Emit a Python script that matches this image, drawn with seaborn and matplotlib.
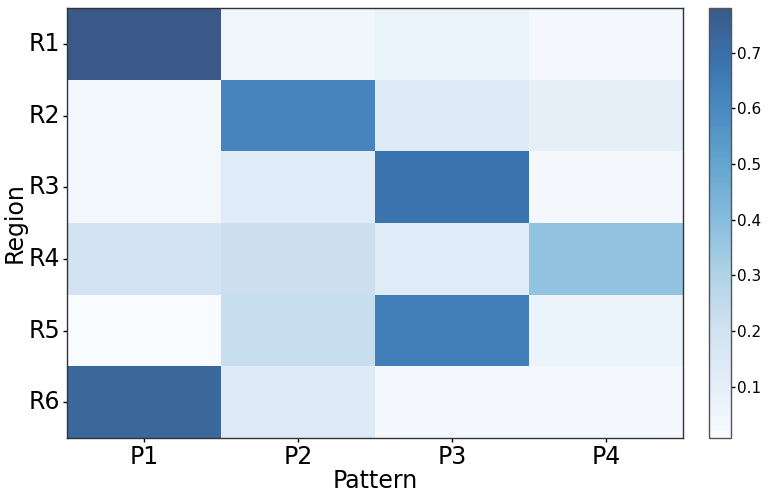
import numpy as np
import pandas as pd
import seaborn as sns
import matplotlib.pyplot as plt

# Region x pattern weights
regions = ['R1', 'R2', 'R3', 'R4', 'R5', 'R6']
patterns = ['P1', 'P2', 'P3', 'P4']
p1 = [0.78, 0.04, 0.04, 0.19, 0.008, 0.73]
p2 = [0.05, 0.62, 0.13, 0.22, 0.23, 0.14]
p3 = [0.08, 0.14, 0.68, 0.13, 0.64, 0.03]
p4 = [0.03, 0.10, 0.03, 0.37, 0.07, 0.03]

df = pd.DataFrame({'P1': p1, 'P2': p2, 'P3': p3, 'P4': p4}, index=regions)

sns.set_style("white")
plt.rcParams['font.family'] = ['DejaVu Sans']
plt.rcParams['text.color'] = 'black'
plt.rcParams['axes.labelcolor'] = 'black'
plt.rcParams['xtick.color'] = 'black'
plt.rcParams['ytick.color'] = 'black'

fig = plt.figure(figsize=(7.69, 4.99), dpi=100)
ax = fig.add_axes([0.087, 0.122, 0.801, 0.862])
cax = fig.add_axes([0.922, 0.122, 0.028, 0.862])

sns.heatmap(df, cmap='Blues', alpha=0.8, ax=ax, cbar_ax=cax)

for s in ax.spines.values():
    s.set_visible(True)
    s.set_color('#333333')
    s.set_linewidth(1.0)
ax.tick_params(axis='both', labelsize=17, length=3, width=1, pad=2, left=True, bottom=True)
ax.set_yticklabels(regions, rotation=0)
ax.set_xticklabels(patterns, rotation=0)
ax.set_xlabel('Pattern', fontsize=17, labelpad=0)
ax.set_ylabel('Region', fontsize=17, labelpad=1)

cb = ax.collections[0].colorbar
cb.outline.set_visible(True)
cb.outline.set_edgecolor('#555555')
cb.outline.set_linewidth(1.0)
cb.ax.tick_params(labelsize=11, length=3, width=1, pad=2, right=True)

plt.savefig('out.png', dpi=100)
plt.close()
